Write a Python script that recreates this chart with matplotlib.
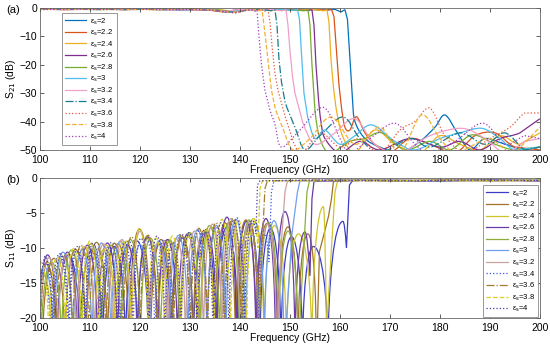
import matplotlib
matplotlib.use("Agg")
import matplotlib.pyplot as plt
from matplotlib.path import Path
from matplotlib.patches import PathPatch
from matplotlib.lines import Line2D

EPS = ["2", "2.2", "2.4", "2.6", "2.8", "3", "3.2", "3.4", "3.6", "3.8", "4"]
XTICKS = [100, 110, 120, 130, 140, 150, 160, 170, 180, 190, 200]
YTICKS_A = [0, -10, -20, -30, -40, -50]
YTICKS_B = [0, -5, -10, -15, -20]

# ---------------- (a) S21 ----------------
S21_F = [
    [100,106,112,118,124,130,135,138,142,147,152,156,159,160.2,161.0,161.5,162.0,162.5,163.0,165,168,172,176,179,181,183.5,186,189,193,197,200],
    [100,105,111,117,123,129,134,137,141,146,151,155,157.5,158.3,158.8,159.3,159.8,160.3,161.0,162,163.3,165,167,170,174,178,183,187,191,195,200],
    [100,106,112,118,124,130,135,138,142,147,152,155,156.8,157.4,157.8,158.2,158.7,159.2,160.5,163,167,171,176,180,184,188,192,196,200],
    [100,105,110,116,122,128,133,137,140,144,148,151,153.5,154.4,154.8,155.2,155.7,156.2,157,160,164,168,174,180,184,188,192,196,200],
    [100,106,112,118,124,130,135,138,142,147,151,152.8,153.6,154.0,154.4,155.0,156,158,162,165,168.4,173,178,182,186.4,191,195,200],
    [100,105,111,117,123,129,134,137,141,145,148,150.5,151.5,151.9,152.3,152.8,153.5,155,157,160,163,166.4,171,175,180,184,188.4,192,195,200],
    [100,106,112,118,124,130,134,137,140,143,146,148.4,149.2,149.6,150.0,150.5,151.0,152.5,155,159,163,167,172,178,184.4,189,193,197,200],
    [100,105,111,117,123,129,133,136,139,142,144.5,146.2,147.0,147.4,147.8,148.3,149,151,153,156,160.6,164,168,174,178,184,189,193,197,200],
    [100,106,112,118,124,130,134,137,139,141.5,144,145.0,145.6,146.0,146.5,147.0,147.6,149,152,156,160,164,168,172,175,178,181,185,190,194,197,200],
    [100,105,111,117,123,129,133,136,138.5,141,143,144.0,144.4,144.8,145.2,145.7,146.3,147,148.5,150.6,154,158.3,163,168,172,176.3,180,183,187,190,195,200],
    [100,106,112,118,124,130,134,137,139,141,142.5,143.0,143.4,143.8,144.3,145,146,147,148.3,152,156.7,160,162,166,171,175,178,183,188.6,193,197,200],
]
S21_DB = [
    [-0.4,-0.3,-0.5,-0.3,-0.6,-0.4,-0.7,-1.2,-0.5,-0.6,-0.4,-0.7,-0.5,-1.4,-0.6,-4,-18,-32,-40,-46,-49,-51,-47,-42,-37.7,-44,-50,-46,-48,-50,-49],
    [-0.5,-0.3,-0.4,-0.6,-0.3,-0.5,-0.8,-1.5,-0.6,-0.4,-0.6,-0.5,-0.8,-0.5,-3,-15,-27,-35,-42,-43,-38.3,-44,-48,-51,-46,-48,-51,-45,-44,-49,-50],
    [-0.3,-0.5,-0.3,-0.4,-0.6,-0.4,-0.5,-1.0,-0.4,-0.7,-0.5,-0.6,-1.0,-0.6,-5,-18,-28,-35,-45,-51,-43,-48,-51,-45,-48,-50,-45,-48,-44],
    [-0.4,-0.6,-0.3,-0.5,-0.4,-0.7,-0.5,-1.3,-0.5,-0.6,-0.4,-0.7,-0.9,-0.6,-6,-20,-32,-40,-46,-51,-47,-50,-46,-49,-47,-50,-46,-44,-39],
    [-0.3,-0.4,-0.6,-0.3,-0.5,-0.4,-0.6,-1.1,-0.4,-0.5,-0.7,-1.0,-0.6,-6,-20,-36,-46,-51,-47,-46,-44,-50,-47,-50,-44.7,-48,-50,-49],
    [-0.5,-0.3,-0.5,-0.4,-0.3,-0.6,-0.4,-1.4,-0.5,-0.6,-0.4,-0.9,-0.5,-4,-16,-30,-38,-46,-43,-48,-45,-41.2,-47,-50,-46,-44,-42.4,-46,-50,-49],
    [-0.4,-0.6,-0.4,-0.3,-0.5,-0.4,-0.7,-1.2,-0.5,-0.6,-0.5,-1.0,-0.6,-6,-15,-24,-30,-40,-48,-44,-39,-48,-51,-45,-42.4,-46,-51,-47,-46],
    [-0.3,-0.5,-0.4,-0.6,-0.4,-0.3,-0.6,-1.0,-1.6,-0.6,-0.5,-1.0,-0.6,-6,-18,-26,-33,-42,-50,-45,-38.4,-46,-51,-46,-49,-44,-48,-44,-50,-49],
    [-0.5,-0.3,-0.6,-0.4,-0.5,-0.4,-0.6,-1.2,-1.8,-0.7,-0.6,-1.1,-0.6,-5,-15,-23,-29,-38,-51,-44,-49,-46,-51,-43,-40,-35.3,-45,-51,-46,-42,-37,-37],
    [-0.4,-0.6,-0.3,-0.5,-0.6,-0.4,-0.5,-1.0,-1.6,-0.8,-0.6,-1.0,-0.6,-6,-12,-20,-29,-35,-42,-50,-46,-38.4,-48,-42,-51,-37.7,-46,-51,-48,-46,-51,-42],
    [-0.6,-0.4,-0.5,-0.3,-0.6,-0.5,-0.7,-1.3,-1.7,-0.8,-0.7,-1.2,-0.7,-10,-20,-29,-36,-41,-49,-43,-35,-46,-51,-46,-40.6,-48,-51,-47,-40.6,-48,-45,-46],
]
COL_A = ["#0072BD", "#D95319", "#EDB120", "#7E2F8E", "#77AC30", "#4DBEEE",
         "#F0A0C8", "#167E8E", "#E8553A", "#F2B035", "#9E3DBA"]
LS_A = ["-", "-", "-", "-", "-", "-", "-", "-.", ":", "--", ":"]

# ---------------- (b) S11 ----------------
S11_START_DB = [-14, -18, -13.5, -16, -22, -16, None, -16, None, -12.3, -17]
S11_PEAK_F = [
    [101.2,105.7,110.3,114.8,119.4,124.0,128.5,133.0,137.4,141.8,146.1,150.3,154.7,160.6],
    [102.8,107.1,111.3,115.6,119.9,124.2,128.5,132.7,137.0,141.2,145.4,149.6,153.6],
    [100.3,104.5,108.8,113.0,117.3,121.5,125.8,130.0,134.3,138.5,142.7,146.9,151.7,156.7],
    [101.5,105.5,109.5,113.5,117.5,121.5,125.5,129.5,133.4,137.4,141.3,145.2,149.0,153.0],
    [102.3,106.3,110.2,114.2,118.1,122.1,126.0,130.0,133.9,137.9,141.8,145.7,149.6],
    [100.8,104.6,108.5,112.3,116.1,120.0,123.8,127.7,131.5,135.3,139.2,143.0,146.8],
    [101.8,105.4,109.1,112.7,116.4,120.0,123.6,127.3,130.9,134.5,138.2,141.8,145.5],
    [100.4,103.9,107.4,110.8,114.3,117.8,121.3,124.8,128.2,131.7,135.2,138.7,142.1,145.0],
    [101.4,104.8,108.2,111.5,114.9,118.3,121.7,125.0,128.4,131.8,135.2,138.6,142.0],
    [100.1,103.4,106.7,110.0,113.3,116.6,119.9,123.2,126.5,129.8,133.1,136.4,139.7,142.8],
    [101.0,104.2,107.4,110.6,113.8,117.0,120.2,123.4,126.6,129.8,133.0,136.2,139.4,142.5],
]
S11_PEAK_DB = [
    [-12.3,-11.0,-10.4,-9.8,-9.0,-9.4,-8.6,-7.8,-7.0,-6.6,-7.2,-8.4,-9.8,-6.2],
    [-11.5,-10.2,-9.2,-9.4,-7.3,-8.8,-8.4,-7.6,-6.4,-6.0,-6.5,-7.0,-8.0],
    [-13.0,-11.2,-9.8,-10.0,-9.0,-8.2,-8.8,-7.9,-7.0,-6.0,-5.8,-6.8,-8.0,-4.1],
    [-11.0,-10.6,-9.6,-9.3,-9.6,-8.4,-8.8,-8.0,-7.6,-5.6,-6.2,-5.8,-4.8,-7.7],
    [-12.0,-10.3,-9.4,-9.6,-8.8,-8.6,-8.9,-7.8,-6.8,-6.2,-6.0,-6.4,-7.6],
    [-12.6,-10.6,-10.2,-9.3,-9.0,-9.5,-9.0,-8.2,-7.4,-6.8,-5.9,-6.3,-6.1],
    [-11.4,-10.9,-9.8,-9.4,-8.8,-7.6,-9.2,-8.6,-7.6,-6.6,-5.8,-6.4,-6.6],
    [-13.4,-10.8,-9.8,-9.6,-9.2,-9.0,-8.6,-8.8,-8.0,-7.6,-7.0,-6.0,-6.2,-8.0],
    [-12.0,-11.0,-9.6,-10.0,-9.3,-8.4,-8.2,-9.0,-8.0,-7.2,-6.4,-5.8,-6.6],
    [-12.0,-11.3,-10.1,-9.0,-9.6,-9.1,-7.2,-8.6,-8.3,-8.4,-7.2,-5.9,-6.0,-6.2],
    [-11.2,-10.9,-10.4,-9.3,-9.8,-9.2,-8.6,-8.3,-9.2,-7.8,-7.3,-6.4,-5.7,-6.0],
]
S11_NULL_F = [
    [103.4,108.0,112.5,117.1,121.7,126.2,130.7,135.2,139.6,144.0,148.2,152.5,157.6],
    [100.6,105.0,109.2,113.5,117.8,122.1,126.4,130.6,134.9,139.1,143.3,147.5,151.6,155.3],
    [102.4,106.6,110.9,115.1,119.4,123.6,127.9,132.1,136.4,140.6,144.8,149.3,154.4],
    [103.5,107.5,111.5,115.5,119.5,123.5,127.5,131.5,135.4,139.3,143.2,147.1,151.0],
    [100.3,104.3,108.3,112.2,116.2,120.1,124.1,128.0,132.0,135.9,139.9,143.8,147.7,151.6],
    [102.7,106.6,110.4,114.2,118.1,121.9,125.8,129.6,133.4,137.2,141.1,144.9,148.8],
    [100.0,103.6,107.3,110.9,114.6,118.2,121.8,125.5,129.1,132.7,136.4,140.0,143.7,147.3],
    [102.2,105.6,109.1,112.6,116.0,119.5,123.0,126.5,130.0,133.5,136.9,140.4,143.6],
    [100.0,103.1,106.5,109.8,113.2,116.6,120.0,123.4,126.7,130.1,133.5,136.9,140.3,143.6],
    [101.8,105.1,108.4,111.7,115.0,118.3,121.6,124.9,128.2,131.5,134.8,138.1,141.3],
    [102.6,105.8,109.0,112.2,115.4,118.6,121.8,125.0,128.2,131.4,134.6,137.8,140.9],
]
S11_NULL_DB = -26
S11_EDGE_F = [
    [161.3,161.9,162.6,170,180,190,200],
    [155.9,156.6,157.7,158.3,158.7,160,170,180,190,200],
    [157.3,158.3,159.0,159.5,165,175,185,200],
    [154.0,154.4,154.8,160,170,180,190,200],
    [152.6,153.4,153.9,160,170,180,190,200],
    [150.4,151.5,152.0,160,170,180,190,200],
    [148.2,149.0,149.5,160,170,180,190,200],
    [145.8,146.3,146.8,155,165,175,185,200],
    [144.4,145.0,145.5,155,165,175,185,200],
    [143.6,144.0,144.5,155,165,175,185,200],
    [143.2,143.5,144.0,155,165,175,185,200],
]
S11_EDGE_DB = [
    [-10,-1,-0.3,-0.35,-0.4,-0.3,-0.4],
    [-10.5,-8.6,-5.5,-3,-0.5,-0.3,-0.4,-0.3,-0.4,-0.3],
    [-22,-10,-2,-0.5,-0.3,-0.4,-0.3,-0.35],
    [-14,-3,-0.5,-0.4,-0.3,-0.45,-0.3,-0.4],
    [-12,-2,-0.4,-0.3,-0.4,-0.3,-0.4,-0.3],
    [-8,-2,-0.4,-0.35,-0.3,-0.4,-0.35,-0.3],
    [-10,-2,-0.4,-0.3,-0.35,-0.3,-0.4,-0.35],
    [-12,-2,-0.4,-0.35,-0.3,-0.4,-0.3,-0.35],
    [-10,-1.5,-0.4,-0.3,-0.4,-0.35,-0.3,-0.4],
    [-10,-1.5,-0.4,-0.4,-0.3,-0.35,-0.4,-0.3],
    [-8,-1,-0.4,-0.3,-0.35,-0.4,-0.3,-0.35],
]
COL_B = ["#3C3CC8", "#A0722C", "#CFC52A", "#6A3AA6", "#8FAE3C", "#6F9EF2",
         "#C9A2A0", "#3A55D8", "#A37C32", "#DCCF22", "#4B3BA4"]
LS_B = ["-", "-", "-", "-", "-", "-", "-", ":", "-.", "--", ":"]

LABELS = ["ε$_\\mathregular{s}$=" + e for e in EPS]


def s21_path(fs, ds, thr=-30.0):
    """Straight segments in the passband/roll-off; smooth (Catmull-Rom style
    Bezier) segments between read points in the stop band."""
    verts = [(fs[0], ds[0])]
    codes = [Path.MOVETO]
    n = len(fs)
    for k in range(n - 1):
        if ds[k] < thr and ds[k + 1] < thr and k > 0 and k + 2 < n:
            p0 = (fs[k - 1], ds[k - 1]); p1 = (fs[k], ds[k])
            p2 = (fs[k + 1], ds[k + 1]); p3 = (fs[k + 2], ds[k + 2])
            c1 = (p1[0] + (p2[0] - p0[0]) / 6, p1[1] + (p2[1] - p0[1]) / 6)
            c2 = (p2[0] - (p3[0] - p1[0]) / 6, p2[1] - (p3[1] - p1[1]) / 6)
            verts += [c1, c2, p2]
            codes += [Path.CURVE4] * 3
        else:
            verts.append((fs[k + 1], ds[k + 1]))
            codes.append(Path.LINETO)
    return Path(verts, codes)


def s11_path(i):
    """Smooth path through the read peaks/nulls: vertical tangent at nulls,
    flat tangent at peaks (rendered as Bezier curves by matplotlib)."""
    pts = [(f, d, 'p') for f, d in zip(S11_PEAK_F[i], S11_PEAK_DB[i])]
    pts += [(f, S11_NULL_DB, 'n') for f in S11_NULL_F[i]]
    pts.sort()
    if S11_START_DB[i] is not None:
        pts.insert(0, (100.0, S11_START_DB[i], 'o'))
    pts += [(f, d, 'o') for f, d in zip(S11_EDGE_F[i], S11_EDGE_DB[i])]
    verts = [pts[0][:2]]
    codes = [Path.MOVETO]
    for a, b in zip(pts[:-1], pts[1:]):
        fa, da, ka = a
        fb, db, kb = b
        if ka == 'n' and kb == 'p':
            verts += [(fa, da + 0.6 * (db - da)), (fa + 0.45 * (fb - fa), db), (fb, db)]
            codes += [Path.CURVE4] * 3
        elif ka == 'p' and kb == 'n':
            verts += [(fa + 0.55 * (fb - fa), da), (fb, db + 0.6 * (da - db)), (fb, db)]
            codes += [Path.CURVE4] * 3
        elif ka == 'o' and kb == 'p':
            verts += [(fa + 0.5 * (fb - fa), db), (fb, db)]
            codes += [Path.CURVE3] * 2
        elif ka == 'p' and kb == 'o':
            verts += [(fa + 0.5 * (fb - fa), da), (fb, db)]
            codes += [Path.CURVE3] * 2
        else:
            verts.append((fb, db))
            codes.append(Path.LINETO)
    return Path(verts, codes)


plt.rcParams['font.family'] = ['Liberation Sans', 'DejaVu Sans']
fig = plt.figure(figsize=(5.5, 3.47), dpi=100)
axa = fig.add_axes([0.0727, 0.568, 0.909, 0.409])
axb = fig.add_axes([0.0727, 0.084, 0.909, 0.403])

handles_a, handles_b = [], []
for i in range(len(EPS)):
    axa.add_patch(PathPatch(s21_path(S21_F[i], S21_DB[i]), fill=False,
                            edgecolor=COL_A[i], ls=LS_A[i], lw=0.9))
    handles_a.append(Line2D([], [], color=COL_A[i], ls=LS_A[i], lw=0.9, label=LABELS[i]))
    axb.add_patch(PathPatch(s11_path(i), fill=False, edgecolor=COL_B[i], ls=LS_B[i], lw=0.9))
    handles_b.append(Line2D([], [], color=COL_B[i], ls=LS_B[i], lw=0.9, label=LABELS[i]))

for ax, yt, ylab in ((axa, YTICKS_A, "S$_{21}$ (dB)"), (axb, YTICKS_B, "S$_{11}$ (dB)")):
    ax.set_xlim(100, 200)
    ax.set_ylim(min(yt), 0)
    ax.set_xticks(XTICKS)
    ax.set_yticks(yt)
    ax.tick_params(direction='in', top=True, right=True, length=3, width=0.6,
                   labelsize=7.5, color='#444444', pad=2)
    ax.tick_params(axis='x', pad=3.5)
    for s in ax.spines.values():
        s.set_linewidth(0.6)
        s.set_color('#666666')
    ax.set_xlabel("Frequency (GHz)", fontsize=7.5, labelpad=0.5)
    ax.set_ylabel(ylab, fontsize=7.5, labelpad=1)

leg_kw = dict(fontsize=5.5, handlelength=2.8, handletextpad=0.5, labelspacing=0.14,
              borderpad=0.4, borderaxespad=0, fancybox=False, framealpha=1,
              edgecolor='#888888')
la = axa.legend(handles=handles_a, loc='upper left', bbox_to_anchor=(0.044, 0.965), **leg_kw)
lb = axb.legend(handles=handles_b, loc='upper right', bbox_to_anchor=(0.996, 0.95), **leg_kw)
for lg in (la, lb):
    lg.get_frame().set_linewidth(0.6)

fig.text(0.012, 0.962, "(a)", fontsize=8)
fig.text(0.012, 0.472, "(b)", fontsize=8)

fig.savefig("out.png", dpi=100)
